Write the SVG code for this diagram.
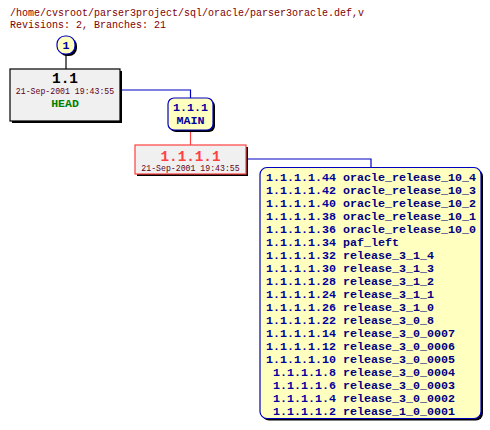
<svg xmlns="http://www.w3.org/2000/svg" width="490" height="430" viewBox="0 0 490 430">
<style>
.t{font-family:"Liberation Mono","DejaVu Sans Mono",monospace}
.hdr{font-size:10px;fill:#800000}
.b{font-weight:bold}
.blue{fill:#0000a0}
.date{font-size:8.2px;fill:#600020}
.conn{fill:none;stroke-width:1.2}
.shadow{fill:#000}
</style>
<rect width="490" height="430" fill="#fff"/>
<text class="t hdr" x="10" y="16">/home/cvsroot/parser3project/sql/oracle/parser3oracle.def,v</text>
<text class="t hdr" x="10" y="28">Revisions: 2, Branches: 21</text>
<g id="connectors">
<path class="conn" stroke="#000" d="M66,54V69"/>
<path class="conn" stroke="#0000c0" d="M120,90H190.5V98"/>
<path class="conn" stroke="#ff4040" d="M190.5,130V145"/>
<path class="conn" stroke="#0000c0" d="M246,159H371V167"/>
</g>
<g id="n1">
<rect class="shadow" x="59" y="38" width="18" height="18" rx="8"/>
<rect x="57" y="36" width="18" height="18" rx="8" fill="#ffffc0" stroke="#0000c0" stroke-width="1.2"/>
<text class="t b blue" x="66" y="49" font-size="11.7" text-anchor="middle">1</text>
</g>
<g id="r1_1">
<rect class="shadow" x="12" y="71" width="110" height="52"/>
<rect x="10" y="69" width="110" height="52" fill="#f0f0f0" stroke="#000" stroke-width="1.2"/>
<text class="t b" x="65" y="83" font-size="14.5" text-anchor="middle">1.1</text>
<text class="t date" x="65" y="94.3" text-anchor="middle">21-Sep-2001 19:43:55</text>
<text class="t b" x="65" y="106.5" font-size="11.5" fill="#008000" text-anchor="middle">HEAD</text>
</g>
<g id="b1_1_1">
<rect class="shadow" x="170" y="100" width="45" height="32" rx="6"/>
<rect x="168" y="98" width="45" height="32" rx="6" fill="#ffffc0" stroke="#0000c0" stroke-width="1.2"/>
<text class="t b blue" x="190.5" y="110.7" font-size="11.7" text-anchor="middle">1.1.1</text>
<text class="t b blue" x="190.5" y="124" font-size="11.7" text-anchor="middle">MAIN</text>
</g>
<g id="r1_1_1_1">
<rect class="shadow" x="137" y="147" width="111" height="29"/>
<rect x="135" y="145" width="111" height="29" fill="#f0f0f0" stroke="#ff4040" stroke-width="1.2"/>
<text class="t b" x="190.5" y="160.7" font-size="14.3" fill="#ff4040" text-anchor="middle">1.1.1.1</text>
<text class="t date" x="190.5" y="170.7" text-anchor="middle">21-Sep-2001 19:43:55</text>
</g>
<g id="tags" class="t b blue" font-size="11.67">
<rect class="shadow" x="262" y="169.5" width="221" height="251" rx="7"/>
<rect x="260" y="167.5" width="221" height="251" rx="7" fill="#ffffc0" stroke="#0000c0" stroke-width="1.2"/>
<g text-anchor="end">
<text x="336" y="181">1.1.1.1.44</text>
<text x="336" y="194">1.1.1.1.42</text>
<text x="336" y="207">1.1.1.1.40</text>
<text x="336" y="220">1.1.1.1.38</text>
<text x="336" y="233">1.1.1.1.36</text>
<text x="336" y="246">1.1.1.1.34</text>
<text x="336" y="259">1.1.1.1.32</text>
<text x="336" y="272">1.1.1.1.30</text>
<text x="336" y="285">1.1.1.1.28</text>
<text x="336" y="298">1.1.1.1.24</text>
<text x="336" y="311">1.1.1.1.26</text>
<text x="336" y="324">1.1.1.1.22</text>
<text x="336" y="337">1.1.1.1.14</text>
<text x="336" y="350">1.1.1.1.12</text>
<text x="336" y="363">1.1.1.1.10</text>
<text x="336" y="376">1.1.1.1.8</text>
<text x="336" y="389">1.1.1.1.6</text>
<text x="336" y="402">1.1.1.1.4</text>
<text x="336" y="415">1.1.1.1.2</text>
</g>
<g fill="#000080">
<text x="343" y="181">oracle_release_10_4</text>
<text x="343" y="194">oracle_release_10_3</text>
<text x="343" y="207">oracle_release_10_2</text>
<text x="343" y="220">oracle_release_10_1</text>
<text x="343" y="233">oracle_release_10_0</text>
<text x="343" y="246">paf_left</text>
<text x="343" y="259">release_3_1_4</text>
<text x="343" y="272">release_3_1_3</text>
<text x="343" y="285">release_3_1_2</text>
<text x="343" y="298">release_3_1_1</text>
<text x="343" y="311">release_3_1_0</text>
<text x="343" y="324">release_3_0_8</text>
<text x="343" y="337">release_3_0_0007</text>
<text x="343" y="350">release_3_0_0006</text>
<text x="343" y="363">release_3_0_0005</text>
<text x="343" y="376">release_3_0_0004</text>
<text x="343" y="389">release_3_0_0003</text>
<text x="343" y="402">release_3_0_0002</text>
<text x="343" y="415">release_1_0_0001</text>
</g>
</g>
</svg>
